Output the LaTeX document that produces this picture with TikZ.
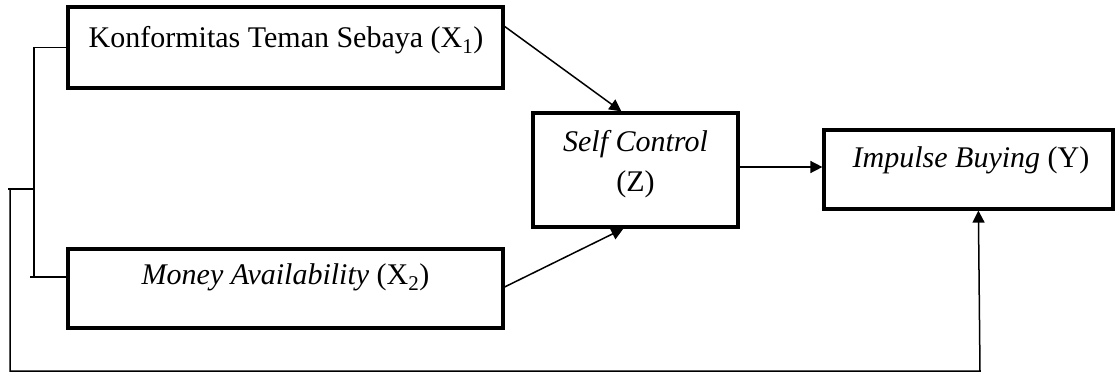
\documentclass[tikz,border=0pt]{standalone}
\usepackage{fontspec}
\setmainfont{Liberation Serif}
\usetikzlibrary{arrows.meta,calc}

\begin{document}
\begin{tikzpicture}[x=1pt,y=-1pt,
	box/.style={draw,line width=3.2pt,inner sep=0pt},
	conn/.style={line width=1.5pt},
	arr/.style={conn,-{Triangle[length=12pt,width=12pt]}},
	txt/.style={anchor=base,inner sep=0pt,font=\fontsize{30}{40}\selectfont}]
	
	\useasboundingbox (0,0) rectangle (1117,374);
	
	\node[box,minimum width=435pt,minimum height=81pt] (x1) at (285.5,47.5) {};
	\node[box,minimum width=435pt,minimum height=79pt] (x2) at (285.5,288.5) {};
	\node[box,minimum width=205pt,minimum height=114pt] (z) at (635.5,170) {};
	\node[box,minimum width=289pt,minimum height=79pt] (y) at (968.5,169.5) {};
	
	\node[txt] (x1t) at (286,48) {Konformitas Teman Sebaya (X\textsubscript{1})};
	\node[txt] (x2t) at (285.5,285) {\textit{Money Availability} (X\textsubscript{2})};
	\node[txt] (zt1) at (635.5,152) {\textit{Self Control}};
	\node[txt] (zt2) at (635.5,192) {(Z)};
	\node[txt] (yt) at (971,168) {\textit{Impulse Buying} (Y)};
	
	\draw[arr] ([yshift=-21pt]x1.north east) -- ([xshift=90pt]z.north west);
	\draw[arr] ([yshift=1.5pt]x2.east) -- ([xshift=92pt]z.south west);
	\draw[arr] ([yshift=3pt]z.east) -- ([yshift=3pt]z.east -| y.west);
	
	\draw[conn] (x1.west) -- (34,47.5) -- (34,277);
	\draw[conn] (30,277) -- ([yshift=11.5pt]x2.west);
	\draw[conn] (8,189) -- (34,189);
	\coordinate (fb) at (10,189);
	\draw[arr] (fb) |- (980,371) -- ([xshift=156pt]y.south west);
	
\end{tikzpicture}
\end{document}
